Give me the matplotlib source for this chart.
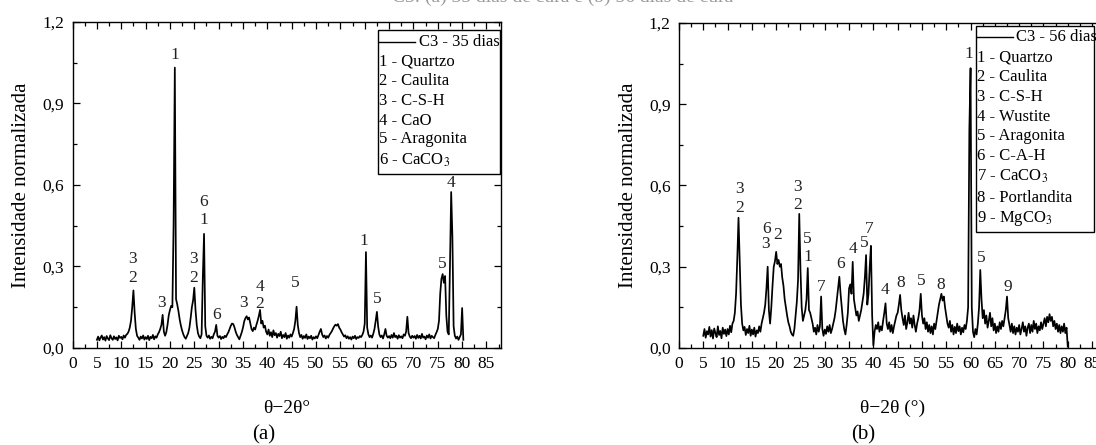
import numpy as np
import matplotlib
matplotlib.use("Agg")
import matplotlib.pyplot as plt
from matplotlib.patches import Rectangle
from matplotlib.lines import Line2D
from matplotlib.ticker import MultipleLocator

plt.rcParams['font.family'] = ['Liberation Serif', 'DejaVu Serif']
plt.rcParams['mathtext.fontset'] = 'stix'

# Difratogramas normalizados, passo de 0,25 graus a partir de 5
int_35 = [
    0.030, 0.042, 0.028, 0.038, 0.046, 0.031, 0.040, 0.027, 0.044, 0.035,
    0.029, 0.047, 0.036, 0.030, 0.043, 0.033, 0.039, 0.028, 0.045, 0.037,
    0.041, 0.032, 0.046, 0.038, 0.048, 0.052, 0.060, 0.075, 0.100, 0.150,
    0.212, 0.130, 0.070, 0.045, 0.038, 0.030, 0.042, 0.035, 0.046, 0.031,
    0.040, 0.033, 0.045, 0.029, 0.041, 0.036, 0.048, 0.032, 0.043, 0.038,
    0.050, 0.058, 0.070, 0.085, 0.122, 0.060, 0.045, 0.058, 0.085, 0.120,
    0.140, 0.155, 0.150, 0.460, 1.032, 0.180, 0.160, 0.135, 0.105, 0.082,
    0.064, 0.050, 0.040, 0.034, 0.044, 0.055, 0.075, 0.110, 0.150, 0.175,
    0.222, 0.140, 0.085, 0.055, 0.042, 0.036, 0.050, 0.260, 0.420, 0.080,
    0.045, 0.038, 0.046, 0.034, 0.041, 0.036, 0.050, 0.060, 0.085, 0.045,
    0.038, 0.044, 0.033, 0.041, 0.036, 0.045, 0.040, 0.050, 0.058, 0.070,
    0.082, 0.090, 0.088, 0.076, 0.060, 0.048, 0.040, 0.032, 0.045, 0.058,
    0.075, 0.098, 0.110, 0.117, 0.105, 0.112, 0.090, 0.070, 0.062, 0.075,
    0.068, 0.085, 0.100, 0.118, 0.140, 0.090, 0.100, 0.075, 0.082, 0.060,
    0.050, 0.068, 0.045, 0.058, 0.040, 0.065, 0.047, 0.055, 0.038, 0.052,
    0.044, 0.060, 0.036, 0.048, 0.040, 0.055, 0.034, 0.046, 0.038, 0.050,
    0.042, 0.055, 0.070, 0.100, 0.152, 0.085, 0.055, 0.040, 0.048, 0.034,
    0.044, 0.037, 0.050, 0.033, 0.042, 0.036, 0.045, 0.031, 0.040, 0.035,
    0.043, 0.036, 0.048, 0.060, 0.070, 0.050, 0.040, 0.046, 0.035, 0.044,
    0.038, 0.048, 0.055, 0.062, 0.072, 0.080, 0.086, 0.082, 0.088, 0.075,
    0.068, 0.058, 0.050, 0.042, 0.047, 0.036, 0.043, 0.034, 0.040, 0.031,
    0.042, 0.036, 0.045, 0.033, 0.040, 0.037, 0.044, 0.040, 0.048, 0.060,
    0.090, 0.353, 0.075, 0.050, 0.040, 0.046, 0.038, 0.052, 0.070, 0.100,
    0.133, 0.080, 0.050, 0.040, 0.046, 0.035, 0.050, 0.070, 0.045, 0.038,
    0.044, 0.036, 0.048, 0.038, 0.055, 0.040, 0.045, 0.034, 0.047, 0.038,
    0.043, 0.036, 0.050, 0.045, 0.060, 0.115, 0.055, 0.042, 0.036, 0.045,
    0.038, 0.044, 0.034, 0.048, 0.037, 0.045, 0.035, 0.052, 0.038, 0.042,
    0.032, 0.046, 0.038, 0.050, 0.035, 0.045, 0.040, 0.036, 0.048, 0.058,
    0.070, 0.100, 0.200, 0.255, 0.272, 0.240, 0.265, 0.120, 0.060, 0.050,
    0.300, 0.574, 0.410, 0.080, 0.045, 0.035, 0.042, 0.030, 0.040, 0.050,
    0.147, 0.030,
]

int_56 = [
    0.045, 0.070, 0.038, 0.062, 0.050, 0.078, 0.042, 0.066, 0.035, 0.072,
    0.055, 0.040, 0.080, 0.048, 0.063, 0.036, 0.075, 0.052, 0.068, 0.044,
    0.070, 0.050, 0.082, 0.058, 0.090, 0.100, 0.130, 0.200, 0.330, 0.481,
    0.320, 0.160, 0.090, 0.065, 0.078, 0.048, 0.070, 0.055, 0.082, 0.045,
    0.068, 0.050, 0.075, 0.042, 0.065, 0.055, 0.080, 0.060, 0.090, 0.110,
    0.130, 0.160, 0.220, 0.300, 0.140, 0.090, 0.150, 0.230, 0.300, 0.320,
    0.355, 0.310, 0.325, 0.300, 0.310, 0.260, 0.230, 0.180, 0.150, 0.120,
    0.095, 0.080, 0.060, 0.050, 0.045, 0.070, 0.120, 0.170, 0.250, 0.495,
    0.290, 0.150, 0.100, 0.120, 0.140, 0.180, 0.295, 0.140, 0.130, 0.110,
    0.090, 0.060, 0.075, 0.050, 0.085, 0.060, 0.080, 0.190, 0.070, 0.045,
    0.068, 0.052, 0.080, 0.060, 0.085, 0.055, 0.070, 0.090, 0.110, 0.140,
    0.180, 0.220, 0.263, 0.200, 0.150, 0.100, 0.070, 0.050, 0.085, 0.130,
    0.220, 0.235, 0.200, 0.318, 0.180, 0.150, 0.120, 0.135, 0.100, 0.120,
    0.140, 0.170, 0.200, 0.260, 0.343, 0.160, 0.200, 0.300, 0.377, 0.120,
    0.010, 0.060, 0.085, 0.070, 0.095, 0.060, 0.080, 0.065, 0.100, 0.130,
    0.165, 0.090, 0.070, 0.095, 0.060, 0.085, 0.055, 0.080, 0.100, 0.120,
    0.130, 0.160, 0.196, 0.140, 0.110, 0.085, 0.120, 0.070, 0.095, 0.130,
    0.090, 0.110, 0.075, 0.120, 0.085, 0.060, 0.090, 0.110, 0.140, 0.200,
    0.120, 0.090, 0.110, 0.070, 0.095, 0.060, 0.085, 0.055, 0.080, 0.050,
    0.090, 0.070, 0.100, 0.130, 0.160, 0.180, 0.200, 0.175, 0.190, 0.150,
    0.120, 0.090, 0.075, 0.100, 0.060, 0.085, 0.050, 0.078, 0.055, 0.090,
    0.062, 0.080, 0.050, 0.075, 0.058, 0.085, 0.070, 0.100, 0.150, 0.805,
    1.033, 0.150, 0.060, 0.040, 0.070, 0.050, 0.090, 0.150, 0.288, 0.180,
    0.110, 0.140, 0.090, 0.120, 0.075, 0.100, 0.130, 0.080, 0.110, 0.065,
    0.090, 0.055, 0.080, 0.060, 0.095, 0.070, 0.100, 0.080, 0.110, 0.140,
    0.190, 0.110, 0.085, 0.060, 0.090, 0.055, 0.080, 0.050, 0.075, 0.060,
    0.085, 0.050, 0.070, 0.095, 0.060, 0.080, 0.045, 0.075, 0.090, 0.055,
    0.085, 0.060, 0.100, 0.070, 0.090, 0.055, 0.080, 0.065, 0.095, 0.070,
    0.090, 0.110, 0.080, 0.115, 0.095, 0.125, 0.100, 0.115, 0.080, 0.100,
    0.070, 0.090, 0.060, 0.085, 0.055, 0.080, 0.060, 0.090, 0.055, 0.075,
    0.005,
]

# identificacao dos picos
picos_35_txt = ["3", "2", "3", "1", "3", "2", "6", "1", "6", "3", "4", "2",
                "5", "1", "5", "5", "4"]
picos_35_x = [12.4, 12.4, 18.2, 21.0, 24.9, 24.9, 27.0, 27.0, 29.5, 35.1,
              38.4, 38.4, 45.7, 59.9, 62.5, 76.0, 77.7]
picos_35_y = [0.328, 0.258, 0.166, 1.08, 0.328, 0.258, 0.538, 0.471, 0.121,
              0.166, 0.226, 0.162, 0.239, 0.394, 0.18, 0.309, 0.608]

picos_56_txt = ["3", "2", "6", "3", "2", "3", "2", "5", "1", "7", "6", "4",
                "5", "7", "4", "8", "5", "8", "1", "5", "9"]
picos_56_x = [12.4, 12.4, 18.1, 17.9, 20.2, 24.4, 24.4, 26.3, 26.6, 29.2,
              33.3, 35.9, 38.1, 39.1, 42.3, 45.6, 49.8, 53.9, 59.7, 62.1, 67.6]
picos_56_y = [0.586, 0.518, 0.440, 0.385, 0.417, 0.596, 0.528, 0.401, 0.337,
              0.226, 0.309, 0.364, 0.389, 0.438, 0.214, 0.241, 0.247, 0.233,
              1.086, 0.331, 0.226]

fases_35 = ["1 - Quartzo", "2 - Caulita", "3 - C-S-H", "4 - CaO",
            "5 - Aragonita", "6 - CaCO$_3$"]
fases_56 = ["1 - Quartzo", "2 - Caulita", "3 - C-S-H", "4 - Wustite",
            "5 - Aragonita", "6 - C-A-H", "7 - CaCO$_3$", "8 - Portlandita",
            "9 - MgCO$_3$"]

yticks = [0.0, 0.3, 0.6, 0.9, 1.2]
yticklabels = ["0,0", "0,3", "0,6", "0,9", "1,2"]
xticks = list(range(0, 90, 5))

fig = plt.figure(figsize=(10.96, 4.45), dpi=100)
ax1 = fig.add_axes([0.0662, 0.218, 0.391, 0.7326])
ax2 = fig.add_axes([0.6195, 0.218, 0.3902, 0.7304])


def monta_eixo(ax, inten, rotulo, txt, px, py, fases, caixa, linhas, xlab):
    x = 5 + 0.25 * np.arange(len(inten))
    ax.plot(x, inten, color="black", lw=1.25)
    ax.set_xlim(0, 88)
    ax.set_ylim(0, 1.2)
    ax.set_xticks(xticks)
    ax.set_xticklabels([str(v) for v in xticks])
    ax.set_yticks(yticks)
    ax.set_yticklabels(yticklabels)
    ax.xaxis.set_minor_locator(MultipleLocator(2.5))
    ax.yaxis.set_minor_locator(MultipleLocator(0.15))
    ax.tick_params(which="both", direction="in", top=True, right=True,
                   labelsize=12.5, width=0.9)
    ax.tick_params(which="major", length=5, pad=6)
    ax.tick_params(which="minor", length=3)
    for s in ax.spines.values():
        s.set_linewidth(1.0)
    ax.set_ylabel("Intensidade normalizada", fontsize=15, labelpad=8)
    ax.set_xlabel(xlab, fontsize=14, labelpad=20)

    for t, a, b in zip(txt, px, py):
        ax.text(a, b, t, ha="center", va="center", fontsize=12.5,
                color="#222222")

    # caixa de legenda
    x0, x1, y0, y1 = caixa
    ax.add_patch(Rectangle((x0, y0), x1 - x0, y1 - y0, transform=ax.transAxes,
                           facecolor="white", edgecolor="black", lw=1.0,
                           zorder=5))
    tx, lx, ly = linhas[0], linhas[1], linhas[2:]
    ax.add_line(Line2D([tx, lx], [ly[0], ly[0]], transform=ax.transAxes,
                       color="black", lw=1.0, zorder=6))
    ax.text(lx + 0.008, ly[0], rotulo, transform=ax.transAxes, ha="left",
            va="center", fontsize=12, zorder=6)
    for f, yy in zip(fases, ly[1:]):
        ax.text(tx, yy, f, transform=ax.transAxes, ha="left", va="center",
                fontsize=12, zorder=6)


monta_eixo(ax1, int_35, "C3 - 35 dias", picos_35_txt, picos_35_x, picos_35_y,
           fases_35, (0.713, 0.998, 0.534, 0.975),
           [0.716, 0.800, 0.940, 0.878, 0.819, 0.758, 0.696, 0.641, 0.577],
           "θ−2θ°")
monta_eixo(ax2, int_56, "C3 - 56 dias", picos_56_txt, picos_56_x, picos_56_y,
           fases_56, (0.694, 0.970, 0.357, 0.991),
           [0.698, 0.781, 0.958, 0.894, 0.835, 0.773, 0.712, 0.652, 0.591,
            0.529, 0.462, 0.397],
           "θ−2θ (°)")

fig.text(0.241, 0.022, "(a)", ha="center", va="center", fontsize=15)
fig.text(0.788, 0.022, "(b)", ha="center", va="center", fontsize=15)
fig.text(0.513, 0.996, "C3: (a) 35 dias de cura e (b) 56 dias de cura",
         ha="center", va="baseline", fontsize=14, color="#9a9a9a")

fig.savefig("out.png", dpi=100)
